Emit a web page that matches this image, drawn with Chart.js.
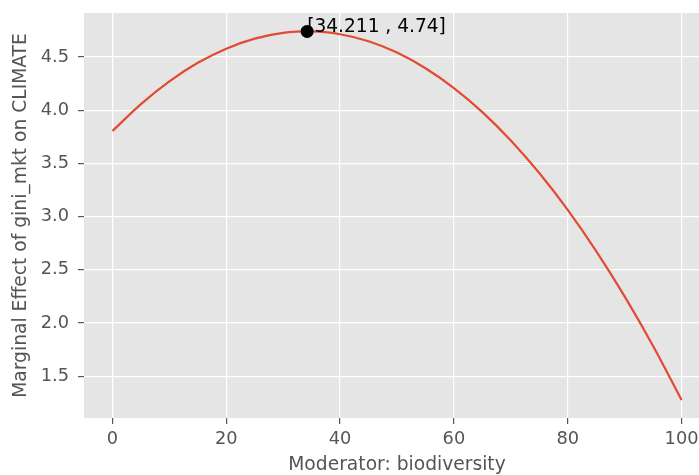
<!DOCTYPE html>
<html>
<head>
<meta charset="utf-8">
<script src="https://cdn.jsdelivr.net/npm/chart.js@4/dist/chart.umd.min.js"></script>
<style>
html,body{margin:0;padding:0;background:#fff;overflow:hidden;width:699px;height:475px;}
canvas{display:block;}
</style>
</head>
<body>
<canvas id="c" width="730" height="495"></canvas>
<script>
const moderatorValues = [0, 5, 10, 15, 20, 25, 30, 35, 40, 45, 50, 55, 60, 65, 70, 75, 80, 85, 90, 95, 100];
const marginalEffect = [3.804, 4.057, 4.271, 4.445, 4.578, 4.672, 4.726, 4.7395, 4.713, 4.647, 4.541, 4.394, 4.208, 3.982, 3.715, 3.409, 3.063, 2.676, 2.250, 1.784, 1.277];
const peakPoint = {x: 34.211, y: 4.74};
const peakLabel = "[34.211 , 4.74]";
const xTicks = [0, 20, 40, 60, 80, 100];
const yTicks = [1.5, 2.0, 2.5, 3.0, 3.5, 4.0, 4.5];

const tickFont = {family: "'DejaVu Sans'", size: 17.8};
const titleFont = {family: "'DejaVu Sans'", size: 18.7};
const textColor = '#555555';

const bgPlugin = {
  id: 'plotbg',
  beforeDraw(chart) {
    const {ctx, chartArea: a} = chart;
    ctx.save();
    ctx.fillStyle = '#E5E5E5';
    ctx.fillRect(a.left, a.top, a.right - a.left, a.bottom - a.top);
    ctx.restore();
  }
};
const labelPlugin = {
  id: 'peaklabel',
  afterDatasetsDraw(chart) {
    const {ctx, scales} = chart;
    const px = scales.x.getPixelForValue(peakPoint.x);
    const py = scales.y.getPixelForValue(peakPoint.y);
    ctx.save();
    ctx.fillStyle = '#000';
    ctx.font = "18.6px 'DejaVu Sans'";
    ctx.textAlign = 'left';
    ctx.textBaseline = 'alphabetic';
    ctx.fillText(peakLabel, px, py + 1);
    ctx.restore();
  }
};
function noPad(s) { s.paddingTop = 0; s.paddingBottom = 0; s.paddingLeft = 0; s.paddingRight = 0; }

new Chart(document.getElementById('c'), {
  type: 'scatter',
  data: {
    datasets: [
      {
        data: moderatorValues.map((x, i) => ({x: x, y: marginalEffect[i]})),
        showLine: true,
        borderColor: '#E24A33',
        borderWidth: 2.2,
        pointRadius: 0,
        cubicInterpolationMode: 'monotone',
        fill: false,
        order: 2
      },
      {
        data: [peakPoint],
        pointRadius: 6.5,
        pointBackgroundColor: '#000',
        pointBorderWidth: 0,
        showLine: false,
        order: 1
      }
    ]
  },
  options: {
    responsive: false,
    animation: false,
    layout: {padding: {left: 0, right: 20, top: 13, bottom: 0}},
    plugins: {legend: {display: false}, tooltip: {enabled: false}},
    scales: {
      x: {
        type: 'linear',
        min: -5, max: 105,
        afterBuildTicks(s) { s.ticks = xTicks.map(v => ({value: v})); },
        afterFit(s) { s.height = 77; noPad(s); },
        border: {display: false},
        grid: {color: '#FFFFFF', lineWidth: 1.2, tickColor: textColor, tickLength: 6, drawTicks: true},
        ticks: {color: textColor, font: tickFont, padding: 5, maxRotation: 0},
        title: {display: true, text: 'Moderator: biodiversity', color: textColor, font: titleFont, padding: {top: 0, bottom: 19}}
      },
      y: {
        type: 'linear',
        min: 1.107, max: 4.913,
        afterBuildTicks(s) { s.ticks = yTicks.map(v => ({value: v})); },
        afterFit(s) { s.width = 84; noPad(s); },
        border: {display: false},
        grid: {color: '#FFFFFF', lineWidth: 1.2, tickColor: textColor, tickLength: 6, drawTicks: true},
        ticks: {color: textColor, font: tickFont, padding: 9, callback: v => Number(v).toFixed(1)},
        title: {display: true, text: 'Marginal Effect of gini_mkt on CLIMATE', color: textColor, font: titleFont, padding: {top: 10, bottom: 10}}
      }
    }
  },
  plugins: [bgPlugin, labelPlugin]
});
</script>
</body>
</html>
